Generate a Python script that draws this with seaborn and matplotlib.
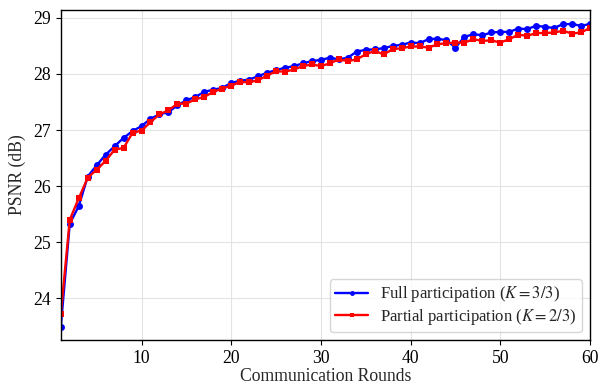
import numpy as np
import pandas as pd
import matplotlib
matplotlib.use("Agg")
import matplotlib.pyplot as plt
import seaborn as sns

rounds = list(range(1, 61))
full = [23.49, 25.33, 25.64, 26.17, 26.37, 26.56, 26.71, 26.86, 26.98, 27.07,
        27.20, 27.28, 27.32, 27.44, 27.53, 27.59, 27.68, 27.72, 27.75, 27.84,
        27.88, 27.90, 27.96, 28.02, 28.07, 28.11, 28.14, 28.19, 28.23, 28.25,
        28.29, 28.26, 28.29, 28.40, 28.43, 28.44, 28.46, 28.50, 28.52, 28.56,
        28.55, 28.62, 28.63, 28.60, 28.47, 28.66, 28.71, 28.69, 28.74, 28.75,
        28.75, 28.81, 28.80, 28.86, 28.84, 28.82, 28.89, 28.89, 28.86, 28.89]
partial = [23.72, 25.40, 25.78, 26.15, 26.29, 26.45, 26.65, 26.68, 26.95, 26.99,
           27.14, 27.28, 27.35, 27.47, 27.47, 27.55, 27.59, 27.68, 27.74, 27.79,
           27.86, 27.85, 27.89, 27.97, 28.05, 28.04, 28.08, 28.14, 28.17, 28.14,
           28.19, 28.26, 28.23, 28.26, 28.35, 28.41, 28.35, 28.44, 28.46, 28.49,
           28.49, 28.47, 28.53, 28.55, 28.56, 28.56, 28.62, 28.59, 28.60, 28.56,
           28.62, 28.70, 28.68, 28.73, 28.73, 28.74, 28.77, 28.72, 28.74, 28.82]
label_full = r"Full participation ($K = 3/3$)"
label_partial = r"Partial participation ($K = 2/3$)"
x_ticks = [10, 20, 30, 40, 50, 60]
y_ticks = [24, 25, 26, 27, 28, 29]

sns.set_theme(style="ticks")
plt.rcParams["font.family"] = ["Liberation Serif", "DejaVu Serif"]
plt.rcParams["mathtext.fontset"] = "stix"

df = pd.DataFrame({
    "round": rounds + rounds,
    "psnr": full + partial,
    "scheme": [label_full] * len(rounds) + [label_partial] * len(rounds),
})

fig = plt.figure(figsize=(6.02, 3.87), dpi=100)
ax = fig.add_axes([0.101, 0.121, 0.879, 0.853])

sns.lineplot(data=df[df.scheme == label_full], x="round", y="psnr",
             color="#0000ff", marker="o", markersize=5, markeredgewidth=0,
             linewidth=1.7, label=label_full, ax=ax)
sns.lineplot(data=df[df.scheme == label_partial], x="round", y="psnr",
             color="#ff0000", marker="s", markersize=5, markeredgewidth=0,
             linewidth=1.7, label=label_partial, ax=ax)

ax.set_xlim(1, 60)
ax.set_ylim(23.25, 29.14)
ax.set_xticks(x_ticks)
ax.set_yticks(y_ticks)
ax.grid(True, color="#dddddd", linewidth=0.8, alpha=0.8)
ax.set_xlabel("Communication Rounds", fontsize=12.7, labelpad=1)
ax.set_ylabel("PSNR (dB)", fontsize=12.7, labelpad=5)
ax.tick_params(labelsize=12.7, direction="out", length=3.5, width=0.8, colors="black")
for s in ax.spines.values():
    s.set_color("black")
    s.set_linewidth(1.0)
    s.set_visible(True)
leg = ax.legend(loc="lower right", fontsize=12, frameon=True, fancybox=True,
                framealpha=0.8, edgecolor="#cccccc", borderpad=0.3,
                labelspacing=0.15, markerscale=0.7, handlelength=2.0,
                handletextpad=0.7)
fig.savefig("out.png", dpi=100)
